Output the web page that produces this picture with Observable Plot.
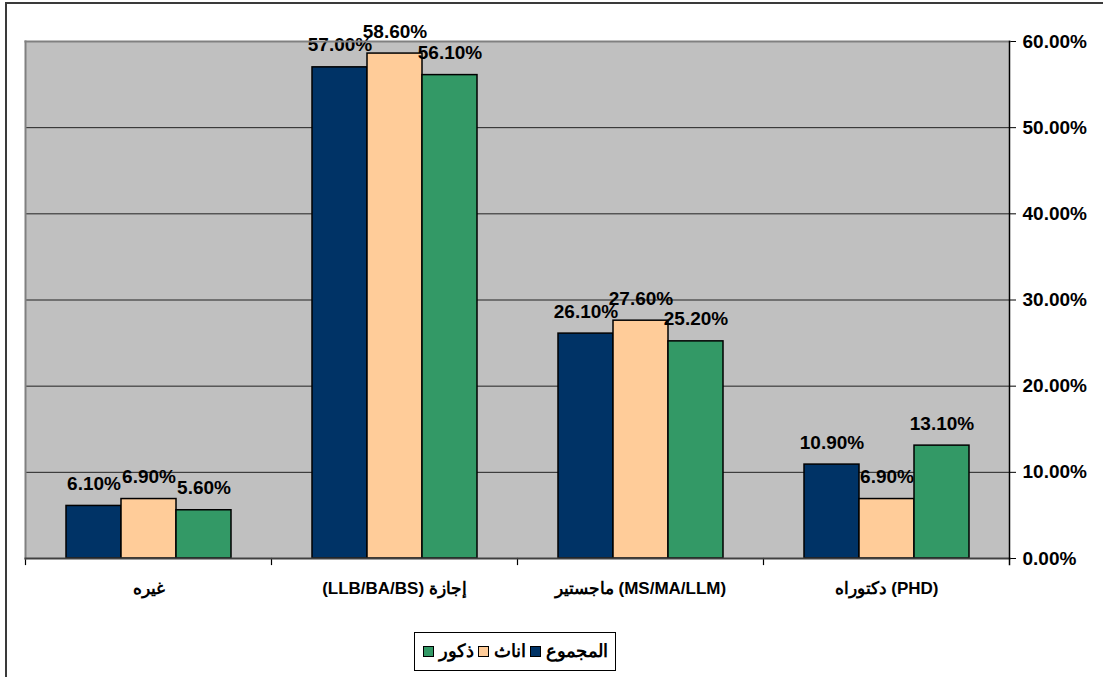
<!DOCTYPE html>
<html>
<head>
<meta charset="utf-8">
<script src="https://cdn.jsdelivr.net/npm/d3@7"></script>
<script src="https://cdn.jsdelivr.net/npm/@observablehq/plot@0.6"></script>
<style>
  html, body { margin: 0; padding: 0; background: #fff; overflow: hidden; }
  body { font-family: "Liberation Sans", Arial, sans-serif; width: 1103px; height: 677px; position: relative; }
  #outer { position: absolute; left: 5px; top: 2px; width: 1300px; height: 900px; border: 2px solid #3a3a3a; box-sizing: border-box; pointer-events: none; }
  #chart { position: absolute; left: 0; top: 0; }
  #legend { position: absolute; left: 414px; top: 632px; width: 202px; height: 39px; border: 1px solid #000; box-sizing: border-box;
            display: flex; align-items: center; justify-content: center; direction: ltr; background: #fff; }
  .item { display: flex; align-items: center; margin: 0 2px; }
  .sw { width: 11px; height: 11px; border: 1px solid #000; box-sizing: border-box; margin-right: 5px; }
  .lbl { font-weight: bold; font-size: 17.5px; color: #000; }
</style>
</head>
<body>
<div id="outer"></div>
<div id="chart"></div>
<div id="legend"></div>
<script>
const categories = ["غيره", "(LLB/BA/BS) إجازة", "ماجستير (MS/MA/LLM)", "دكتوراه (PHD)"];
const series = ["المجموع", "اناث", "ذكور"];
const totalValues  = [6.1, 57.0, 26.1, 10.9];
const femaleValues = [6.9, 58.6, 27.6, 6.9];
const maleValues   = [5.6, 56.1, 25.2, 13.1];
const seriesColors = ["#003366", "#FFCC99", "#339966"];
const yTicks = [0, 10, 20, 30, 40, 50, 60];
const legendOrder = ["ذكور", "اناث", "المجموع"];

const valuesBySeries = [totalValues, femaleValues, maleValues];
const data = [];
categories.forEach((c, i) => {
  series.forEach((s, j) => data.push({category: c, series: s, value: valuesBySeries[j][i]}));
});

const W = 1103, H = 615, MT = 41, MB = 57, ML = 23, MR = 93;
const plotH = H - MT - MB;
const fmt = d => d.toFixed(2) + "%";

const chart = Plot.plot({
  width: W, height: H,
  marginTop: MT, marginBottom: MB, marginLeft: ML, marginRight: MR,
  style: {fontFamily: "'Liberation Sans', Arial, sans-serif", background: "transparent", overflow: "visible", color: "#000"},
  fx: {domain: categories, padding: 0, label: null, axis: null},
  x: {domain: series, paddingInner: 0, paddingOuter: 0.72, axis: null},
  y: {domain: [0, 60], axis: null},
  color: {domain: series, range: seriesColors},
  marks: [
    Plot.frame({fill: "#c0c0c0", stroke: "none", facet: "super"}),
    Plot.ruleY(yTicks.slice(1, -1), {stroke: "#222", strokeWidth: 1}),
    Plot.frame({anchor: "left", stroke: "#000", strokeWidth: 1.2, insetTop: plotH, insetBottom: -6}),
    Plot.barY(data, {fx: "category", x: "series", y: "value", fill: "series", stroke: "#000", strokeWidth: 1.5}),
    Plot.text(data, {fx: "category", x: "series", y: "value", text: d => fmt(d.value), lineAnchor: "bottom", dy: -16,
                     fontSize: 19, fontWeight: "bold", fill: "#000"}),
    Plot.axisFx({anchor: "bottom", tickSize: 0, tickPadding: 23, fontSize: 17, fontWeight: "bold", label: null}),
    Plot.axisY({anchor: "right", ticks: yTicks, tickFormat: fmt, tickSize: 6, tickPadding: 7, fontSize: 19, fontWeight: "bold", label: null, stroke: "#000"}),
    Plot.frame({anchor: "top", stroke: "#808080", strokeWidth: 2, facet: "super"}),
    Plot.frame({anchor: "left", stroke: "#808080", strokeWidth: 2, facet: "super"}),
    Plot.frame({anchor: "bottom", stroke: "#404040", strokeWidth: 2, facet: "super"}),
    Plot.frame({anchor: "right", stroke: "#000", strokeWidth: 1.5, insetBottom: -6, facet: "super"})
  ]
});
document.getElementById("chart").appendChild(chart);

const legend = document.getElementById("legend");
legendOrder.forEach(name => {
  const item = document.createElement("div");
  item.className = "item";
  const sw = document.createElement("div");
  sw.className = "sw";
  sw.style.background = seriesColors[series.indexOf(name)];
  const lbl = document.createElement("span");
  lbl.className = "lbl";
  lbl.textContent = name;
  item.appendChild(sw);
  item.appendChild(lbl);
  legend.appendChild(item);
});
</script>
</body>
</html>
